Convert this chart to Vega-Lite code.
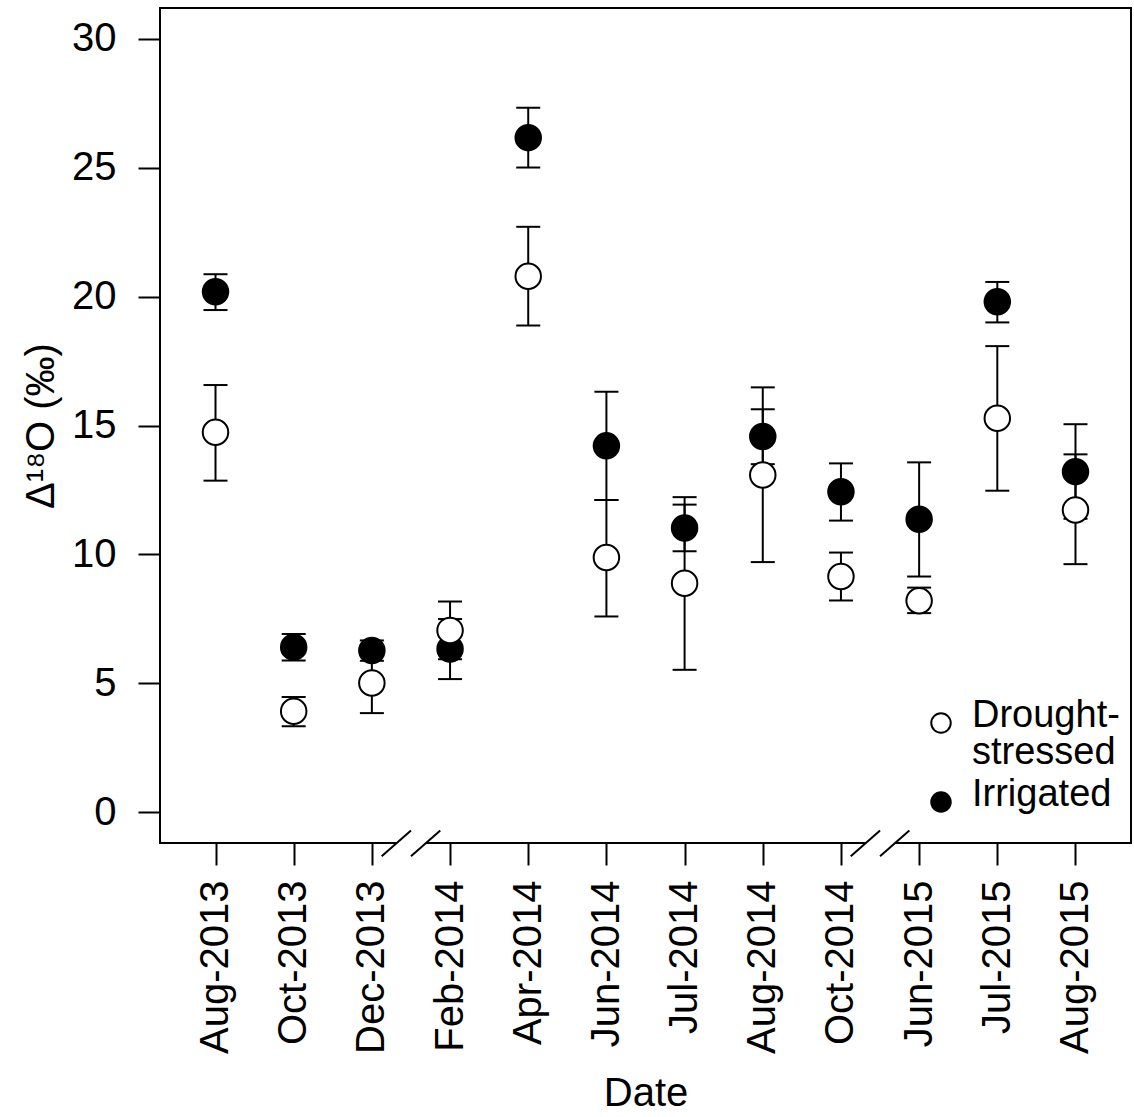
{
  "$schema": "https://vega.github.io/schema/vega-lite/v6.json",
  "autosize": {"type": "none"},
  "width": 971,
  "height": 835,
  "padding": {"left": 160, "top": 8, "right": 3, "bottom": 274},
  "background": "white",
  "config": {
    "view": {"stroke": "black", "strokeWidth": 2},
    "font": "Liberation Sans",
    "axis": {
      "domain": false,
      "grid": false,
      "tickColor": "black",
      "tickWidth": 2,
      "tickSize": 22,
      "labelFont": "Liberation Sans",
      "labelFontSize": 40,
      "labelColor": "black",
      "titleFont": "Liberation Sans",
      "titleFontSize": 40,
      "titleFontWeight": "normal",
      "titleColor": "black",
      "labelOverlap": false,
      "labelBound": false,
      "labelFlush": false
    }
  },
  "datasets": {
    "obs": [
      {"date": "Aug-2013", "treatment": "Irrigated", "mean": 20.19, "lo": 19.48, "hi": 20.87},
      {"date": "Oct-2013", "treatment": "Irrigated", "mean": 6.40, "lo": 5.88, "hi": 6.91},
      {"date": "Dec-2013", "treatment": "Irrigated", "mean": 6.27, "lo": 5.87, "hi": 6.66},
      {"date": "Feb-2014", "treatment": "Irrigated", "mean": 6.33, "lo": 5.16, "hi": 7.49},
      {"date": "Apr-2014", "treatment": "Irrigated", "mean": 26.17, "lo": 25.01, "hi": 27.33},
      {"date": "Jun-2014", "treatment": "Irrigated", "mean": 14.21, "lo": 12.11, "hi": 16.31},
      {"date": "Jul-2014", "treatment": "Irrigated", "mean": 11.02, "lo": 10.12, "hi": 11.93},
      {"date": "Aug-2014", "treatment": "Irrigated", "mean": 14.57, "lo": 13.50, "hi": 15.63},
      {"date": "Oct-2014", "treatment": "Irrigated", "mean": 12.43, "lo": 11.31, "hi": 13.53},
      {"date": "Jun-2015", "treatment": "Irrigated", "mean": 11.36, "lo": 9.14, "hi": 13.57},
      {"date": "Jul-2015", "treatment": "Irrigated", "mean": 19.80, "lo": 19.00, "hi": 20.57},
      {"date": "Aug-2015", "treatment": "Irrigated", "mean": 13.21, "lo": 11.38, "hi": 15.05},
      {"date": "Aug-2013", "treatment": "Drought-stressed", "mean": 14.74, "lo": 12.86, "hi": 16.57},
      {"date": "Oct-2013", "treatment": "Drought-stressed", "mean": 3.91, "lo": 3.33, "hi": 4.47},
      {"date": "Dec-2013", "treatment": "Drought-stressed", "mean": 5.01, "lo": 3.84, "hi": 6.18},
      {"date": "Feb-2014", "treatment": "Drought-stressed", "mean": 7.05, "lo": 5.93, "hi": 8.17},
      {"date": "Apr-2014", "treatment": "Drought-stressed", "mean": 20.79, "lo": 18.88, "hi": 22.71},
      {"date": "Jun-2014", "treatment": "Drought-stressed", "mean": 9.88, "lo": 7.59, "hi": 12.11},
      {"date": "Jul-2014", "treatment": "Drought-stressed", "mean": 8.88, "lo": 5.52, "hi": 12.22},
      {"date": "Aug-2014", "treatment": "Drought-stressed", "mean": 13.08, "lo": 9.70, "hi": 16.48},
      {"date": "Oct-2014", "treatment": "Drought-stressed", "mean": 9.14, "lo": 8.21, "hi": 10.07},
      {"date": "Jun-2015", "treatment": "Drought-stressed", "mean": 8.20, "lo": 7.72, "hi": 8.71},
      {"date": "Jul-2015", "treatment": "Drought-stressed", "mean": 15.28, "lo": 12.47, "hi": 18.08},
      {"date": "Aug-2015", "treatment": "Drought-stressed", "mean": 11.72, "lo": 9.62, "hi": 13.88}
    ],
    "breaks": [
      {"date": "Dec-2013"},
      {"date": "Oct-2014"}
    ]
  },
  "encoding": {
    "x": {
      "field": "date",
      "type": "ordinal",
      "title": "Date",
      "scale": {
        "type": "point",
        "padding": 0.71,
        "domain": ["Aug-2013", "Oct-2013", "Dec-2013", "Feb-2014", "Apr-2014", "Jun-2014", "Jul-2014", "Aug-2014", "Oct-2014", "Jun-2015", "Jul-2015", "Aug-2015"]
      },
      "axis": {"labelAngle": 270, "labelPadding": 15, "titlePadding": 30}
    }
  },
  "layer": [
    {
      "data": {"name": "obs"},
      "mark": {"type": "rule", "stroke": "black", "strokeWidth": 2},
      "encoding": {
        "y": {
          "field": "lo",
          "type": "quantitative",
          "title": "Δ¹⁸O (‰)",
          "scale": {"domain": [-1.2, 31.2], "nice": false, "zero": false},
          "axis": {"values": [0, 5, 10, 15, 20, 25, 30], "labelPadding": 22, "titlePadding": 10}
        },
        "y2": {"field": "hi"}
      }
    },
    {
      "data": {"name": "obs"},
      "mark": {"type": "tick", "orient": "horizontal", "size": 24, "thickness": 2, "color": "black", "opacity": 1},
      "encoding": {"y": {"field": "lo", "type": "quantitative"}}
    },
    {
      "data": {"name": "obs"},
      "mark": {"type": "tick", "orient": "horizontal", "size": 24, "thickness": 2, "color": "black", "opacity": 1},
      "encoding": {"y": {"field": "hi", "type": "quantitative"}}
    },
    {
      "data": {"name": "obs"},
      "mark": {"type": "point", "filled": true, "size": 650, "stroke": "black", "strokeWidth": 2, "opacity": 1},
      "encoding": {
        "y": {"field": "mean", "type": "quantitative"},
        "fill": {
          "field": "treatment",
          "type": "nominal",
          "scale": {"domain": ["Drought-stressed", "Irrigated"], "range": ["white", "black"]},
          "legend": {
            "title": null,
            "orient": "none",
            "legendX": 762,
            "legendY": 696,
            "padding": 0,
            "symbolType": "circle",
            "symbolSize": 380,
            "symbolStrokeColor": "black",
            "symbolStrokeWidth": 2,
            "symbolOpacity": 1,
            "labelFont": "Liberation Sans",
            "labelFontSize": 38,
            "labelColor": "black",
            "labelOffset": 12,
            "labelLimit": 400,
            "labelBaseline": "middle",
            "rowPadding": 4,
            "labelExpr": "datum.label == 'Drought-stressed' ? ['Drought-', 'stressed'] : datum.label",
            "encode": {
              "symbols": {"update": {"size": {"value": 380}}},
              "labels": {"update": {"lineHeight": {"value": 37}, "dy": {"value": -7}}}
            }
          }
        }
      }
    },
    {
      "data": {"name": "breaks"},
      "mark": {"type": "rule", "stroke": "white", "strokeWidth": 5, "xOffset": 25, "x2Offset": 54},
      "encoding": {"x2": {"field": "date"}, "y": {"datum": -1.2}, "y2": {"datum": -1.2}}
    },
    {
      "data": {"name": "breaks"},
      "mark": {"type": "rule", "stroke": "black", "strokeWidth": 2, "xOffset": 9.8, "yOffset": 13.2, "x2Offset": 39.1, "y2Offset": -12.5},
      "encoding": {"x2": {"field": "date"}, "y": {"datum": -1.2}, "y2": {"datum": -1.2}}
    },
    {
      "data": {"name": "breaks"},
      "mark": {"type": "rule", "stroke": "black", "strokeWidth": 2, "xOffset": 39.1, "yOffset": 13.2, "x2Offset": 68.4, "y2Offset": -12.5},
      "encoding": {"x2": {"field": "date"}, "y": {"datum": -1.2}, "y2": {"datum": -1.2}}
    }
  ]
}
